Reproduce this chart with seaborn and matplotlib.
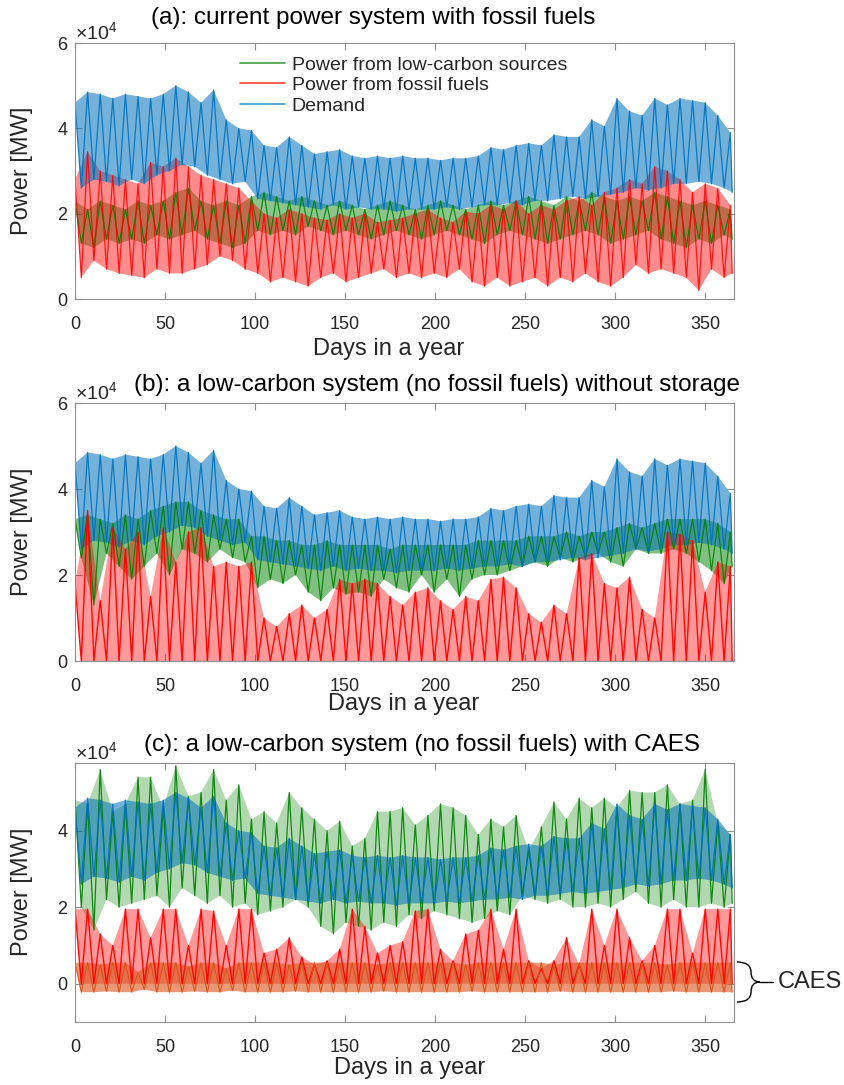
import numpy as np
import matplotlib
matplotlib.use("Agg")
import matplotlib.pyplot as plt
import seaborn as sns
from matplotlib.path import Path
from matplotlib.patches import PathPatch
from matplotlib.lines import Line2D

# ---------------- data (units of 1e4 MW), weekly peak / trough readings ----------------
# peaks read at days 0,7,14,...,364 ; troughs read half a week later
demand_peak = [4.6, 4.85, 4.8, 4.7, 4.8, 4.75, 4.7, 4.8, 5.0, 4.85,
               4.6, 4.9, 4.2, 4.0, 3.95, 3.6, 3.55, 3.8, 3.6, 3.4,
               3.45, 3.5, 3.35, 3.3, 3.35, 3.3, 3.35, 3.3, 3.3, 3.25,
               3.3, 3.3, 3.35, 3.55, 3.5, 3.6, 3.65, 3.6, 3.85, 3.8,
               3.8, 4.2, 4.05, 4.7, 4.4, 4.3, 4.7, 4.55, 4.7, 4.65,
               4.6, 4.3, 3.9]
demand_trough = [2.6, 2.8, 2.75, 2.65, 2.8, 2.7, 2.9, 3.0, 3.15, 3.1,
                 2.9, 2.8, 2.7, 2.75, 2.35, 2.3, 2.25, 2.2, 2.15, 2.1,
                 2.2, 2.1, 2.15, 2.1, 2.1, 2.05, 2.1, 2.1, 2.1, 2.15,
                 2.1, 2.15, 2.2, 2.2, 2.25, 2.2, 2.3, 2.3, 2.35, 2.4,
                 2.35, 2.4, 2.45, 2.5, 2.6, 2.55, 2.6, 2.7, 2.7, 2.75,
                 2.7, 2.6, 2.5]

# (a) current system
fossil_a_peak = [2.8, 3.45, 3.0, 2.9, 2.8, 2.7, 3.2, 3.1, 3.3, 3.1,
                 2.9, 2.8, 2.7, 2.6, 2.3, 2.0, 1.9, 2.1, 2.0, 1.9,
                 1.85, 2.0, 1.9, 2.0, 1.8, 1.85, 1.9, 2.0, 2.1, 1.9,
                 1.8, 2.05, 2.0, 2.2, 2.1, 2.3, 2.0, 2.2, 2.1, 2.3,
                 2.4, 2.2, 2.5, 2.6, 2.8, 2.7, 3.1, 3.0, 2.8, 2.5,
                 2.7, 2.6, 2.2]
fossil_a_trough = [0.5, 0.9, 0.7, 0.6, 0.55, 0.5, 0.7, 0.6, 0.6, 0.7,
                   0.8, 1.0, 0.9, 0.7, 0.6, 0.4, 0.5, 0.4, 0.3, 0.5,
                   0.6, 0.4, 0.5, 0.6, 0.7, 0.5, 0.6, 0.5, 0.6, 0.5,
                   0.7, 0.4, 0.3, 0.5, 0.3, 0.4, 0.5, 0.3, 0.5, 0.4,
                   0.6, 0.4, 0.3, 0.5, 0.8, 0.6, 0.7, 0.6, 0.5, 0.2,
                   0.7, 0.5, 0.6]
low_a_peak = [2.3, 2.1, 2.3, 2.2, 2.1, 2.3, 2.2, 2.3, 2.5, 2.6,
              2.3, 2.2, 2.3, 2.2, 2.4, 2.5, 2.4, 2.3, 2.4, 2.3,
              2.2, 2.3, 2.2, 2.1, 2.2, 2.3, 2.2, 2.1, 2.2, 2.3,
              2.2, 2.1, 2.2, 2.3, 2.2, 2.3, 2.4, 2.3, 2.2, 2.4,
              2.3, 2.5, 2.4, 2.3, 2.4, 2.3, 2.5, 2.4, 2.3, 2.2,
              2.3, 2.2, 2.1]
low_a_trough = [1.3, 1.2, 1.4, 1.3, 1.4, 1.3, 1.5, 1.4, 1.5, 1.6,
                1.4, 1.3, 1.2, 1.3, 1.6, 1.5, 1.6, 1.5, 1.7, 1.6,
                1.5, 1.6, 1.5, 1.4, 1.5, 1.6, 1.5, 1.4, 1.5, 1.6,
                1.5, 1.4, 1.3, 1.5, 1.6, 1.5, 1.4, 1.3, 1.4, 1.5,
                1.6, 1.5, 1.3, 1.4, 1.5, 1.6, 1.4, 1.3, 1.2, 1.4,
                1.3, 1.5, 1.4]

# (b) low-carbon system without storage
fossil_b_peak = [1.8, 3.5, 1.4, 3.1, 2.6, 3.0, 1.5, 3.1, 2.3, 3.0,
                 3.1, 2.2, 2.3, 2.2, 2.3, 1.0, 0.8, 1.1, 1.3, 1.0,
                 1.2, 1.9, 1.8, 1.9, 1.8, 1.5, 1.3, 1.6, 1.7, 1.4,
                 1.2, 1.5, 1.4, 1.9, 1.95, 1.7, 1.1, 0.9, 1.3, 1.1,
                 2.4, 2.5, 1.8, 1.7, 1.95, 1.2, 1.0, 3.0, 2.95, 2.8,
                 1.6, 2.3, 2.2]
fossil_b_trough = [0, 0, 0, 0, 0, 0, 0, 0, 0, 0,
                   0, 0, 0, 0, 0, 0, 0, 0, 0, 0,
                   0, 0, 0, 0, 0, 0, 0, 0, 0, 0,
                   0, 0, 0, 0, 0, 0, 0, 0, 0, 0,
                   0, 0, 0, 0, 0, 0, 0, 0, 0, 0,
                   0, 0, 0]
low_b_peak = [3.3, 3.4, 3.3, 3.2, 3.4, 3.3, 3.5, 3.6, 3.7, 3.7,
              3.5, 3.4, 3.3, 3.3, 2.9, 2.9, 2.8, 2.8, 2.7, 2.7,
              2.8, 2.7, 2.7, 2.7, 2.7, 2.6, 2.7, 2.7, 2.7, 2.7,
              2.7, 2.7, 2.8, 2.8, 2.8, 2.8, 2.9, 2.9, 2.9, 3.0,
              2.9, 3.0, 3.0, 3.1, 3.2, 3.1, 3.2, 3.3, 3.3, 3.3,
              3.3, 3.2, 3.0]
low_b_trough = [2.4, 1.3, 2.5, 2.2, 1.9, 2.2, 2.5, 2.0, 2.6, 2.5,
                2.3, 2.6, 2.4, 2.3, 1.7, 1.9, 1.8, 2.0, 1.6, 1.4,
                1.7, 1.55, 1.6, 1.5, 1.9, 1.7, 1.6, 2.0, 1.6, 1.9,
                1.5, 1.9, 2.0, 2.0, 2.1, 2.2, 2.3, 2.2, 2.4, 2.3,
                2.4, 2.5, 2.3, 2.2, 2.6, 2.5, 2.5, 2.6, 2.5, 2.3,
                2.1, 1.8, 2.2]

# (c) low-carbon system with CAES
low_c_peak = [4.8, 4.7, 5.6, 4.5, 4.7, 5.4, 5.4, 4.6, 5.7, 4.9,
              5.0, 5.6, 4.8, 5.2, 4.3, 4.5, 4.2, 5.0, 4.6, 4.3,
              4.0, 4.25, 3.6, 3.8, 4.5, 4.5, 4.6, 4.15, 4.4, 4.7,
              4.6, 4.4, 3.9, 4.3, 4.1, 4.4, 3.5, 4.1, 4.75, 4.3,
              4.85, 4.6, 4.85, 4.6, 5.05, 5.0, 5.0, 5.2, 4.7, 4.8,
              5.6, 4.2, 3.9]
low_c_trough = [2.0, 1.4, 2.2, 2.0, 2.1, 2.2, 2.3, 2.0, 2.5, 2.3,
                2.1, 2.3, 2.0, 2.1, 1.8, 1.9, 2.0, 2.2, 2.0, 1.5,
                1.3, 1.6, 1.5, 1.4, 1.6, 1.5, 1.8, 1.7, 1.9, 1.8,
                1.7, 1.6, 1.7, 1.9, 1.8, 2.3, 2.2, 2.1, 2.2, 2.0,
                2.0, 2.1, 2.0, 2.2, 2.4, 2.1, 2.0, 2.2, 2.0, 2.0,
                2.1, 2.0, 2.1]
fossil_c_peak = [1.95, 1.95, 1.3, 1.0, 1.95, 1.95, 1.2, 1.95, 1.95, 1.0,
                 1.95, 1.9, 1.0, 1.95, 1.95, 0.8, 0.9, 1.2, 0.7, 0.5,
                 0.6, 0.9, 1.95, 1.5, 0.8, 1.0, 1.1, 1.9, 1.95, 0.9,
                 0.6, 1.3, 1.4, 1.95, 0.9, 1.95, 0.6, 0.4, 0.6, 1.2,
                 0.5, 1.95, 1.0, 1.95, 1.2, 0.6, 1.0, 1.95, 1.95, 0.8,
                 1.95, 1.95, 1.95]
fossil_c_trough = [0, 0, 0, 0, 0, 0, 0, 0, 0, 0,
                   0, 0, 0, 0, 0, 0, 0, 0, 0, 0,
                   0, 0, 0, 0, 0, 0, 0, 0, 0, 0,
                   0, 0, 0, 0, 0, 0, 0, 0, 0, 0,
                   0, 0, 0, 0, 0, 0, 0, 0, 0, 0,
                   0, 0, 0]
caes_peak = [0.55, 0.55, 0.5, 0.55, 0.55, 0.3, 0.55, 0.55, 0.55, 0.45,
             0.55, 0.55, 0.4, 0.55, 0.55, 0.55, 0.55, 0.5, 0.55, 0.55,
             0.55, 0.55, 0.55, 0.55, 0.5, 0.55, 0.55, 0.55, 0.55, 0.55,
             0.55, 0.5, 0.55, 0.55, 0.55, 0.55, 0.55, 0.55, 0.5, 0.55,
             0.55, 0.55, 0.55, 0.55, 0.55, 0.55, 0.55, 0.5, 0.55, 0.55,
             0.55, 0.55, 0.55]
caes_trough = [-0.22, -0.22, -0.2, -0.22, -0.22, -0.15, -0.22, -0.22, -0.22, -0.2,
               -0.22, -0.22, -0.18, -0.22, -0.22, -0.22, -0.22, -0.2, -0.22, -0.22,
               -0.22, -0.22, -0.22, -0.22, -0.2, -0.22, -0.22, -0.22, -0.22, -0.22,
               -0.22, -0.2, -0.22, -0.22, -0.22, -0.22, -0.22, -0.22, -0.2, -0.22,
               -0.22, -0.22, -0.22, -0.22, -0.22, -0.22, -0.22, -0.2, -0.22, -0.22,
               -0.22, -0.22, -0.22]

x_ticks = [0, 50, 100, 150, 200, 250, 300, 350]
titles = ["(a): current power system with fossil fuels",
          "(b): a low-carbon system (no fossil fuels) without storage",
          "(c): a low-carbon system (no fossil fuels) with CAES"]
legend_labels = ["Power from low-carbon sources", "Power from fossil fuels", "Demand"]

# ---------------- styling ----------------
GREEN, RED, BLUE, ORANGE = "#008000", "#ff0000", "#0072BD", "#D95319"
sns.set_theme(style="white")
plt.rcParams["font.family"] = ["Liberation Sans", "DejaVu Sans"]
plt.rcParams["mathtext.fontset"] = "custom"
plt.rcParams["mathtext.rm"] = "Liberation Sans"
plt.rcParams["mathtext.default"] = "regular"

W, H = 844, 1085
fig = plt.figure(figsize=(W / 100, H / 100), dpi=100)


def rect(l, r, t, b):
    return [l / W, 1 - b / H, (r - l) / W, (b - t) / H]


axA = fig.add_axes(rect(75, 734, 43, 299))
axB = fig.add_axes(rect(75, 734, 403, 661))
axC = fig.add_axes(rect(75, 734, 763, 1022))

n = len(demand_peak)
peak_days = 7.0 * np.arange(n)
trough_days = np.minimum(peak_days + 3.5, 365.0)


def draw(ax, peak, trough, color, fill_alpha, line_alpha, lw=0.9):
    pk = np.asarray(peak, float) * 1e4
    tr = np.asarray(trough, float) * 1e4
    ax.fill(np.r_[peak_days, trough_days[::-1]], np.r_[pk, tr[::-1]],
            color=color, alpha=fill_alpha, lw=0)
    x = np.empty(2 * n)
    y = np.empty(2 * n)
    x[0::2], x[1::2] = peak_days, trough_days
    y[0::2], y[1::2] = pk, tr
    sns.lineplot(x=x, y=y, color=color, lw=lw, alpha=line_alpha,
                 estimator=None, sort=False, ax=ax)


# (a)
draw(axA, low_a_peak, low_a_trough, GREEN, 0.45, 0.85)
draw(axA, fossil_a_peak, fossil_a_trough, RED, 0.45, 0.85)
draw(axA, demand_peak, demand_trough, BLUE, 0.55, 0.9)
# (b)
draw(axB, low_b_peak, low_b_trough, GREEN, 0.5, 0.85)
draw(axB, demand_peak, demand_trough, BLUE, 0.55, 0.9)
draw(axB, fossil_b_peak, fossil_b_trough, RED, 0.4, 0.95, lw=1.0)
# (c)
draw(axC, low_c_peak, low_c_trough, GREEN, 0.3, 0.9)
draw(axC, demand_peak, demand_trough, BLUE, 0.55, 0.9)
draw(axC, fossil_c_peak, fossil_c_trough, RED, 0.4, 0.95, lw=1.0)
draw(axC, caes_peak, caes_trough, ORANGE, 0.6, 0.9)

for ax in (axA, axB, axC):
    ax.set_xlim(0, 366)
    ax.set_xticks(x_ticks)
    ax.set_xticklabels([str(v) for v in x_ticks])
    ax.set_xlabel("")
    ax.set_ylabel("")
    ax.tick_params(axis="both", direction="in", length=5, width=0.8,
                   color="#8f8f8f", labelcolor="#262626", labelsize=13,
                   top=True, right=True, left=True, bottom=True)
    ax.tick_params(axis="x", pad=12)
    ax.tick_params(axis="y", pad=5)
    for s in ax.spines.values():
        s.set_color("#8f8f8f")
        s.set_linewidth(0.8)
        s.set_visible(True)
    ax.grid(False)
    ax.ticklabel_format(axis="y", style="sci", scilimits=(0, 0), useMathText=True)
    ax.yaxis.get_offset_text().set_fontsize(14)
    ax.yaxis.get_offset_text().set_color("#262626")

axA.set_ylim(0, 6e4)
axB.set_ylim(0, 6e4)
axA.set_yticks([0, 2e4, 4e4, 6e4])
axB.set_yticks([0, 2e4, 4e4, 6e4])
axC.set_ylim(-1e4, 5.77e4)
axC.set_yticks([0, 2e4, 4e4])

# titles / labels as figure text
for (tx, ty), t in zip([(151, 18), (134, 385), (144, 745)], titles):
    fig.text(tx / W, 1 - ty / H, t, fontsize=17.5, ha="left", va="center", color="black")
for xc, yc in [(389, 349), (404, 704), (410, 1068)]:
    fig.text(xc / W, 1 - yc / H, "Days in a year", fontsize=17, ha="center", va="center")
for yc in [171, 532, 892]:
    fig.text(22 / W, 1 - yc / H, "Power [MW]", fontsize=17, rotation=90,
             ha="center", va="center")

# legend in (a)
handles = [Line2D([], [], color=c, lw=1.2, alpha=0.75) for c in (GREEN, RED, BLUE)]
axA.legend(handles, legend_labels, loc="upper left",
           bbox_to_anchor=((240 - 75) / 659, (299 - 56) / 256),
           frameon=False, fontsize=14, handlelength=2.3, handletextpad=0.35,
           labelspacing=0.15, borderpad=0, borderaxespad=0)

# CAES brace
def P(x, y):
    return (x / W, 1 - y / H)

verts = [P(737, 962), P(751, 962), P(751, 972), P(751, 982), P(760, 982),
         P(751, 982), P(751, 992), P(751, 1002), P(737, 1002)]
codes = [Path.MOVETO, Path.CURVE3, Path.CURVE3, Path.CURVE3, Path.CURVE3,
         Path.CURVE3, Path.CURVE3, Path.CURVE3, Path.CURVE3]
fig.patches.append(PathPatch(Path(verts, codes), transform=fig.transFigure,
                             fill=False, lw=1.0, edgecolor="black"))
fig.lines.append(Line2D([760 / W, 773 / W], [1 - 982 / H, 1 - 982 / H],
                        transform=fig.transFigure, color="black", lw=1.0))
fig.text(778 / W, 1 - 982 / H, "CAES", fontsize=17, ha="left", va="center")

fig.savefig("out.png", dpi=100)
